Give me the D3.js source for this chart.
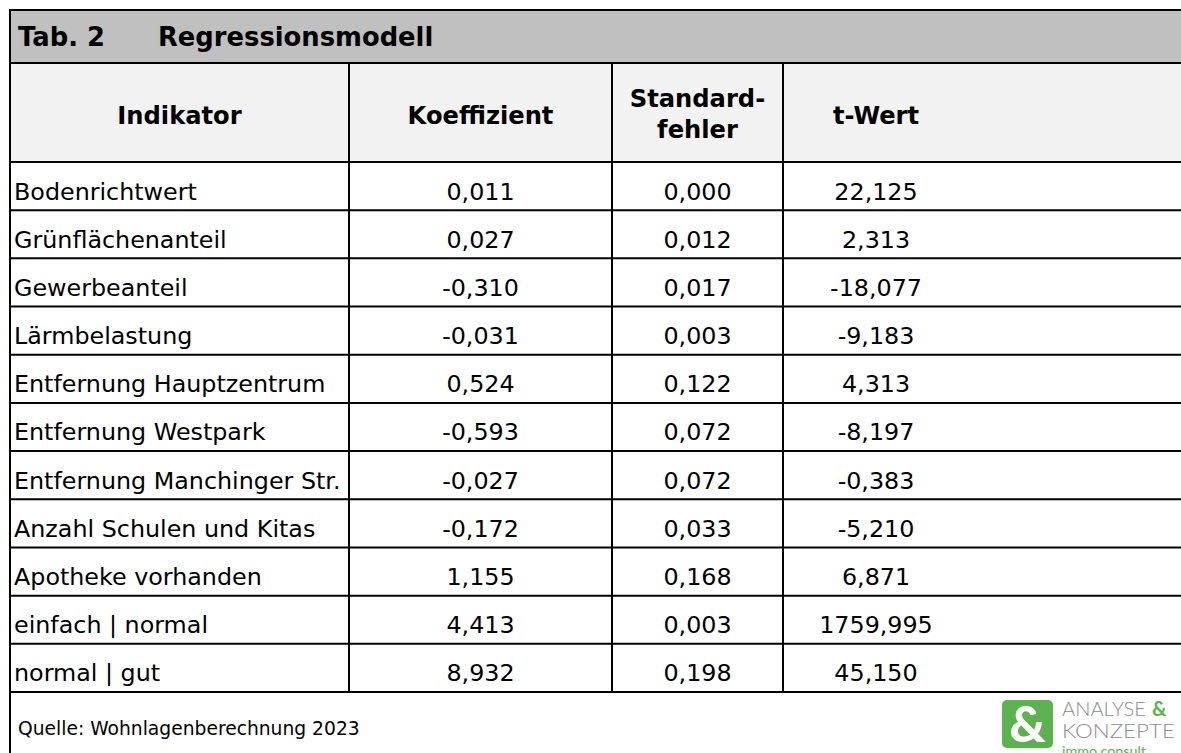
<!DOCTYPE html>
<html>
<head>
<meta charset="utf-8">
<script src="https://cdn.jsdelivr.net/npm/d3@7"></script>
<style>
	body { margin: 0; background: #fff; }
	svg { display: block; }
</style>
</head>
<body>
<script>

var svg;

// table data
var titleNo = "Tab. 2";
var titleText = "Regressionsmodell";
var headers = [["Indikator"], ["Koeffizient"], ["Standard-", "fehler"], ["t-Wert"]];
var indicators = ["Bodenrichtwert", "Grünflächenanteil", "Gewerbeanteil", "Lärmbelastung",
	"Entfernung Hauptzentrum", "Entfernung Westpark", "Entfernung Manchinger Str.",
	"Anzahl Schulen und Kitas", "Apotheke vorhanden", "einfach | normal", "normal | gut"];
var koeffizient = [0.011, 0.027, -0.310, -0.031, 0.524, -0.593, -0.027, -0.172, 1.155, 4.413, 8.932];
var standardfehler = [0.000, 0.012, 0.017, 0.003, 0.122, 0.072, 0.072, 0.033, 0.168, 0.003, 0.198];
var tWert = [22.125, 2.313, -18.077, -9.183, 4.313, -8.197, -0.383, -5.210, 6.871, 1759.995, 45.150];
var source = "Quelle: Wohnlagenberechnung 2023";

var width = 1181, height = 753;
var left = 10, top0 = 10, titleBottom = 63, headBottom = 162, bodyBottom = 692;
var colEdges = [left, 349, 612, 783, 969];	//last edge has no line
var font = "'DejaVu Sans', Verdana, sans-serif";

var de = d3.formatLocale({decimal: ",", thousands: "", grouping: [3], currency: ["", "€"], minus: "-"});
var fmt = de.format(".3f");

function draw(){
	svg = d3.select("body").append("svg").attr("width", width).attr("height", height);

	var rows = d3.scaleBand().domain(d3.range(indicators.length)).range([headBottom, bodyBottom]);
	var cols = d3.scaleOrdinal().domain([0, 1, 2, 3])
		.range(colEdges.slice(0, 4).map(function(e, i){ return (e + colEdges[i+1]) / 2; }));

	// backgrounds
	svg.append("rect").attr("x", left).attr("y", top0).attr("width", width).attr("height", titleBottom - top0).attr("fill", "#c0c0c0");
	svg.append("rect").attr("x", left).attr("y", titleBottom).attr("width", width).attr("height", headBottom - titleBottom).attr("fill", "#f2f2f2");

	var lines = svg.append("g").attr("stroke", "#000").attr("stroke-width", 2);
	// horizontal lines
	[top0, titleBottom, headBottom].concat(d3.range(indicators.length).map(function(i){ return rows(i) + rows.bandwidth(); }))
		.forEach(function(y){
			lines.append("line").attr("x1", left - 1).attr("x2", width).attr("y1", y).attr("y2", y);
		});
	// left outer border
	lines.append("line").attr("x1", left).attr("x2", left).attr("y1", top0).attr("y2", height);
	// column lines
	colEdges.slice(1, 4).forEach(function(x){
		lines.append("line").attr("x1", x).attr("x2", x).attr("y1", titleBottom).attr("y2", bodyBottom);
	});

	// title
	var t = svg.append("g").attr("font-family", font).attr("font-weight", "bold").attr("font-size", 25.8).attr("fill", "#000");
	t.append("text").attr("x", 18).attr("y", 46).text(titleNo);
	t.append("text").attr("x", 158).attr("y", 46).text(titleText);

	// header
	headers.forEach(function(h, i){
		var base = h.length == 1 ? 124 : 107;
		h.forEach(function(s, k){
			svg.append("text").attr("x", cols(i)).attr("y", base + k * 31)
				.attr("text-anchor", "middle").attr("font-family", font).attr("font-weight", "bold")
				.attr("font-size", 24.2).attr("fill", "#000").text(s);
		});
	});

	// body
	var body = svg.append("g").attr("font-family", font).attr("font-size", 23.8).attr("fill", "#000");
	var rowG = body.selectAll(".row").data(indicators).enter().append("g")
		.attr("class", "row")
		.attr("transform", function(d, i){ return "translate(0," + (rows(i) + 37.5) + ")"; });

	rowG.append("text").attr("x", 14).text(function(d){ return d; });
	rowG.append("text").attr("x", cols(1)).attr("text-anchor", "middle").text(function(d, i){ return fmt(koeffizient[i]); });
	rowG.append("text").attr("x", cols(2)).attr("text-anchor", "middle").text(function(d, i){ return fmt(standardfehler[i]); });
	rowG.append("text").attr("x", cols(3)).attr("text-anchor", "middle").text(function(d, i){ return fmt(tWert[i]); });

	// footer
	svg.append("text").attr("x", 18).attr("y", 735).attr("font-family", font).attr("font-size", 18.7).attr("fill", "#000").text(source);

	drawLogo();
}

function drawLogo(){
	var g = svg.append("g").attr("transform", "translate(1002,700)");
	g.append("rect").attr("width", 51).attr("height", 48).attr("rx", 5).attr("fill", "#5cb24f");
	g.append("text").attr("x", 25.5).attr("y", 42).attr("text-anchor", "middle")
		.attr("font-family", "Lato, 'Open Sans', sans-serif").attr("font-weight", "900").attr("font-size", 50)
		.attr("fill", "#fff").text("&");

	var txt = g.append("g").attr("font-family", "Lato, 'Open Sans', sans-serif").attr("font-weight", 300);
	txt.append("text").attr("x", 60).attr("y", 16).attr("font-size", 20).attr("fill", "#8c8c8c")
		.attr("textLength", 84).attr("lengthAdjust", "spacingAndGlyphs").text("ANALYSE");
	txt.append("text").attr("x", 150).attr("y", 16).attr("font-size", 20).attr("font-weight", 700).attr("fill", "#5cb24f").text("&");
	txt.append("text").attr("x", 60).attr("y", 38).attr("font-size", 20).attr("fill", "#8c8c8c")
		.attr("textLength", 113).attr("lengthAdjust", "spacingAndGlyphs").text("KONZEPTE");
	txt.append("text").attr("x", 60).attr("y", 56).attr("font-size", 14).attr("font-weight", 400).attr("fill", "#5cb24f")
		.attr("textLength", 84).attr("lengthAdjust", "spacingAndGlyphs").text("immo.consult");
}

draw();
</script>
</body>
</html>
